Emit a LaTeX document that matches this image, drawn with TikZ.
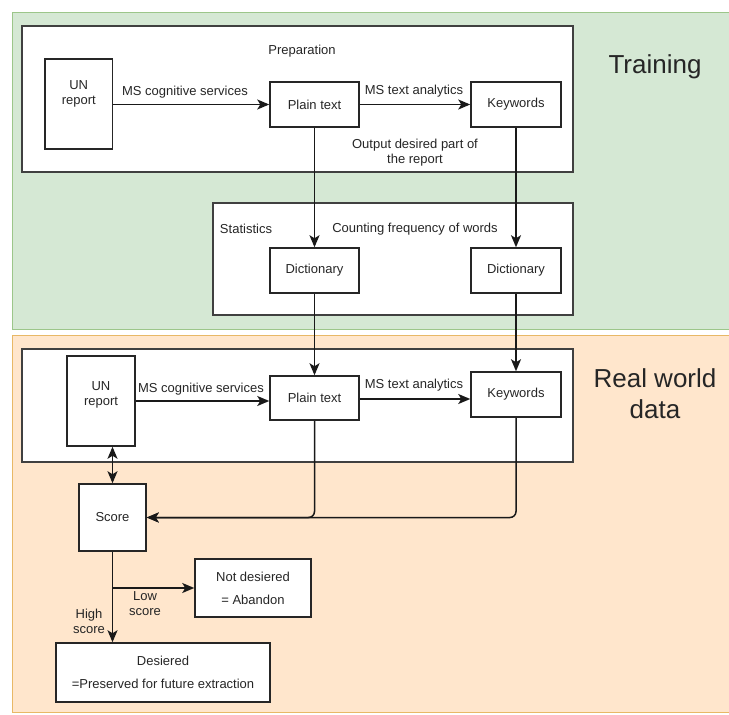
\documentclass[tikz,border=0pt]{standalone}
\usepackage{fontspec}
\setmainfont{Liberation Sans}
\usetikzlibrary{arrows.meta,calc}
\definecolor{grfill}{HTML}{D5E8D4}
\definecolor{grline}{HTML}{9CC68A}
\definecolor{orfill}{HTML}{FFE6CC}
\definecolor{orline}{HTML}{E8B866}
\begin{document}
\begin{tikzpicture}[x=1pt,y=-1pt,
  every node/.style={font=\fontsize{13}{15}\selectfont, inner sep=0pt, text=black!85},
  box/.style={draw=black!85, line width=1.5pt, fill=white},
  frame/.style={draw=black!75, line width=1.6pt, fill=white},
  arr/.style={-{Stealth[length=12pt,width=10pt,inset=3pt]}, line width=1.5pt, draw=black!90},
  darr/.style={{Stealth[length=12pt,width=10pt,inset=3pt]}-{Stealth[length=12pt,width=10pt,inset=3pt]}, line width=1.5pt, draw=black!90},
  big/.style={font=\fontsize{26}{31}\selectfont, align=center},
  lbl/.style={align=center}]

\useasboundingbox (0,0) rectangle (729,715);
\path[fill=grfill, draw=grline, line width=1pt] (12,12) rectangle (740,329);
\path[fill=orfill, draw=orline, line width=1pt] (12,335) rectangle (740,712);

% frames
\draw[frame] (22,26) rectangle (573,172);
\draw[frame] (213,203) rectangle (573,315);
\draw[frame] (22,349) rectangle (573,462);

% training nodes
\node[box, minimum width=67.5, minimum height=90] (un1) at (78.75,104) {};
\node[lbl] (un1t) at (78.75,94) {UN\\report};
\node[box, minimum width=89, minimum height=45] (pt1) at (314.5,104.5) {Plain text};
\node[box, minimum width=90, minimum height=45] (kw1) at (516,104.5) {Keywords};
\node[box, minimum width=89, minimum height=45] (d1) at (314.5,270.5) {Dictionary};
\node[box, minimum width=90, minimum height=45] (d2) at (516,270.5) {Dictionary};

% real world nodes
\node[box, minimum width=68, minimum height=90] (un2) at (101,401) {};
\node[lbl] (un2t) at (101,395) {UN\\report};
\node[box, minimum width=89, minimum height=44] (pt2) at (314.5,398) {Plain text};
\node[box, minimum width=90, minimum height=45] (kw2) at (516,394.5) {Keywords};
\node[box, minimum width=67, minimum height=67] (score) at (112.5,517.5) {Score};
\node[box, lbl, minimum width=116, minimum height=58] (nd) at (253,588) {Not desiered\\[8pt]= Abandon};
\node[box, lbl, minimum width=214, minimum height=59] (des) at (163,672.5) {Desiered\\[8pt]=Preserved for future extraction};

% labels
\node (prep) at (302,51) {Preparation};
\node (l1) at (185,92) {MS cognitive services};
\node (l2) at (414,91) {MS text analytics};
\node[lbl] (l3) at (415,152.5) {Output desired part of\\the report};
\node[big] (train) at (655,67) {Training};
\node (stat) at (246,229) {Statistics};
\node (cnt) at (415,229) {Counting frequency of words};
\node (l4) at (201,389) {MS cognitive services};
\node (l5) at (414,385) {MS text analytics};
\node[big] (real) at (655,394) {Real world\\data};
\node[lbl] (low) at (145,604) {Low\\score};
\node[lbl] (high) at (89,621) {High\\score};

% connectors
\draw[arr] (un1.east |- pt1.west) -- (pt1.west);
\draw[arr] (pt1.east) -- (kw1.west);
\draw[arr] (pt1.south) -- (d1.north);
\draw[arr] (kw1.south) -- (d2.north);
\draw[arr] (d1.south) -- (pt2.north);
\draw[arr] (d2.south) -- (kw2.north);
\draw[arr] (un2.east) -- (un2.east -| pt2.west);
\draw[arr] ($(pt2.east)+(0,1)$) -- ($(pt2.east -| kw2.west)+(0,1)$);
\draw[arr, rounded corners=6pt] (pt2.south) |- (score.east);
\draw[arr, rounded corners=6pt] (kw2.south) |- (score.east);
\draw[darr] (score.north) -- (score.north |- un2.south);
\draw[arr] (score.south) -- (score.south |- des.north);
\coordinate (br) at (score.south |- nd.west);
\draw[arr] (br) -- (nd.west);
\end{tikzpicture}
\end{document}
